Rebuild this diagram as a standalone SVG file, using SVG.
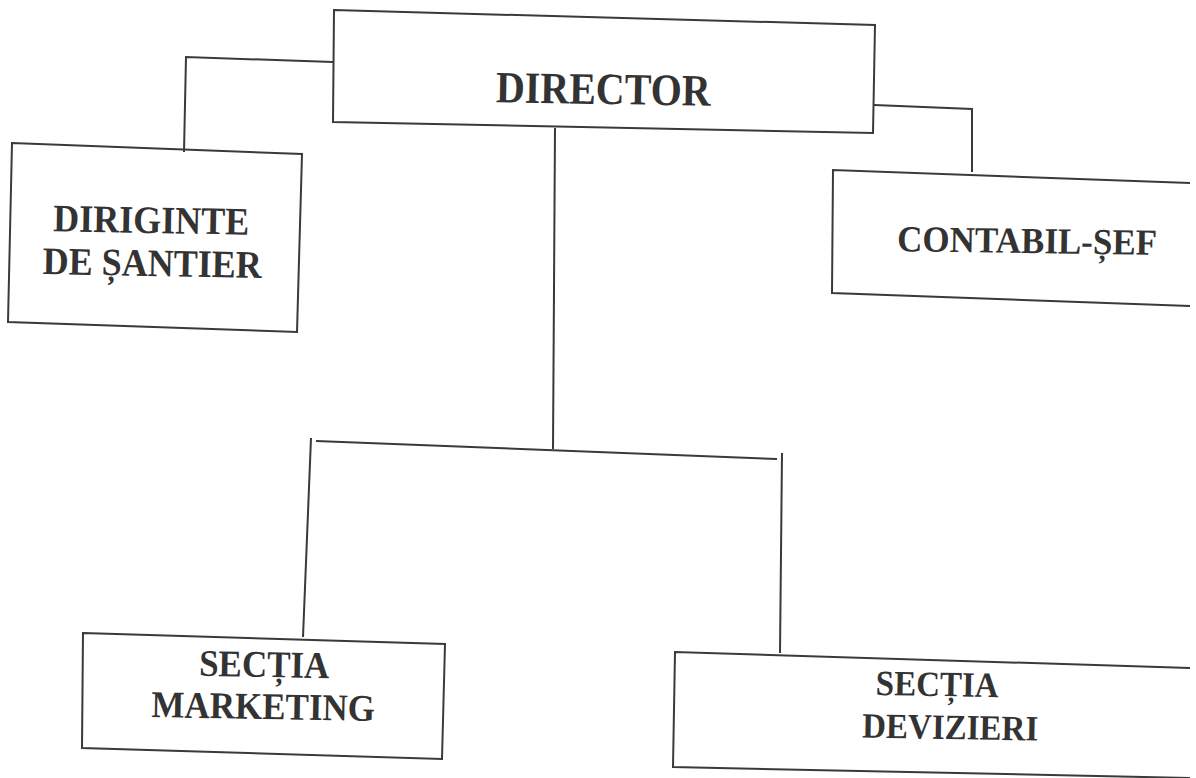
<svg xmlns="http://www.w3.org/2000/svg" width="1196" height="778" viewBox="0 0 1196 778">
<style>
.box{fill:none;stroke:#3a3a3a;stroke-width:2;stroke-linejoin:miter}
.ln{fill:none;stroke:#3a3a3a;stroke-width:2}
.t{font-family:"Liberation Serif","Times New Roman",serif;font-weight:bold;fill:#333;text-anchor:middle}
</style>
<rect width="1196" height="778" fill="#fff"/>
<g id="connectors">
<polyline class="ln" points="333,62 186,57 184,152"/>
<polyline class="ln" points="874,105 972,109 972,172"/>
<line class="ln" x1="555" y1="128" x2="553" y2="449"/>
<line class="ln" x1="316" y1="441" x2="777" y2="459"/>
<line class="ln" x1="311" y1="438" x2="303" y2="637"/>
<line class="ln" x1="782" y1="453" x2="780" y2="653"/>
</g>
<g id="director">
<polygon class="box" points="334,10 875,25 873,133 333,122"/>
<text class="t" font-size="40" transform="translate(603,104) rotate(1) scale(1,1.12)">DIRECTOR</text>
</g>
<g id="diriginte">
<polygon class="box" points="12,143 302,154 297,332 8,322"/>
<text class="t" font-size="36" transform="translate(151,233) rotate(1) scale(1,1.08)">DIRIGINTE</text>
<text class="t" font-size="36" transform="translate(152,276) rotate(1) scale(1,1.08)">DE ȘANTIER</text>
</g>
<g id="contabil">
<polyline class="box" points="1190,183 833,170 832,293 1190,306"/>
<text class="t" font-size="35" transform="translate(1027,253) rotate(0.8) scale(1,1.05)">CONTABIL-ȘEF</text>
</g>
<g id="marketing">
<polygon class="box" points="83,633 445,644 442,759 82,748"/>
<text class="t" font-size="35" transform="translate(264,677) rotate(1) scale(1,1.08)">SECȚIA</text>
<text class="t" font-size="35" transform="translate(263,719) rotate(1) scale(1,1.08)">MARKETING</text>
</g>
<g id="devizieri">
<polyline class="box" points="1190,668 675,652 673,767 1190,778"/>
<text class="t" font-size="33" transform="translate(937,696) rotate(1) scale(1,1.08)">SECȚIA</text>
<text class="t" font-size="33" transform="translate(950,739) rotate(1) scale(1,1.08)">DEVIZIERI</text>
</g>
</svg>
